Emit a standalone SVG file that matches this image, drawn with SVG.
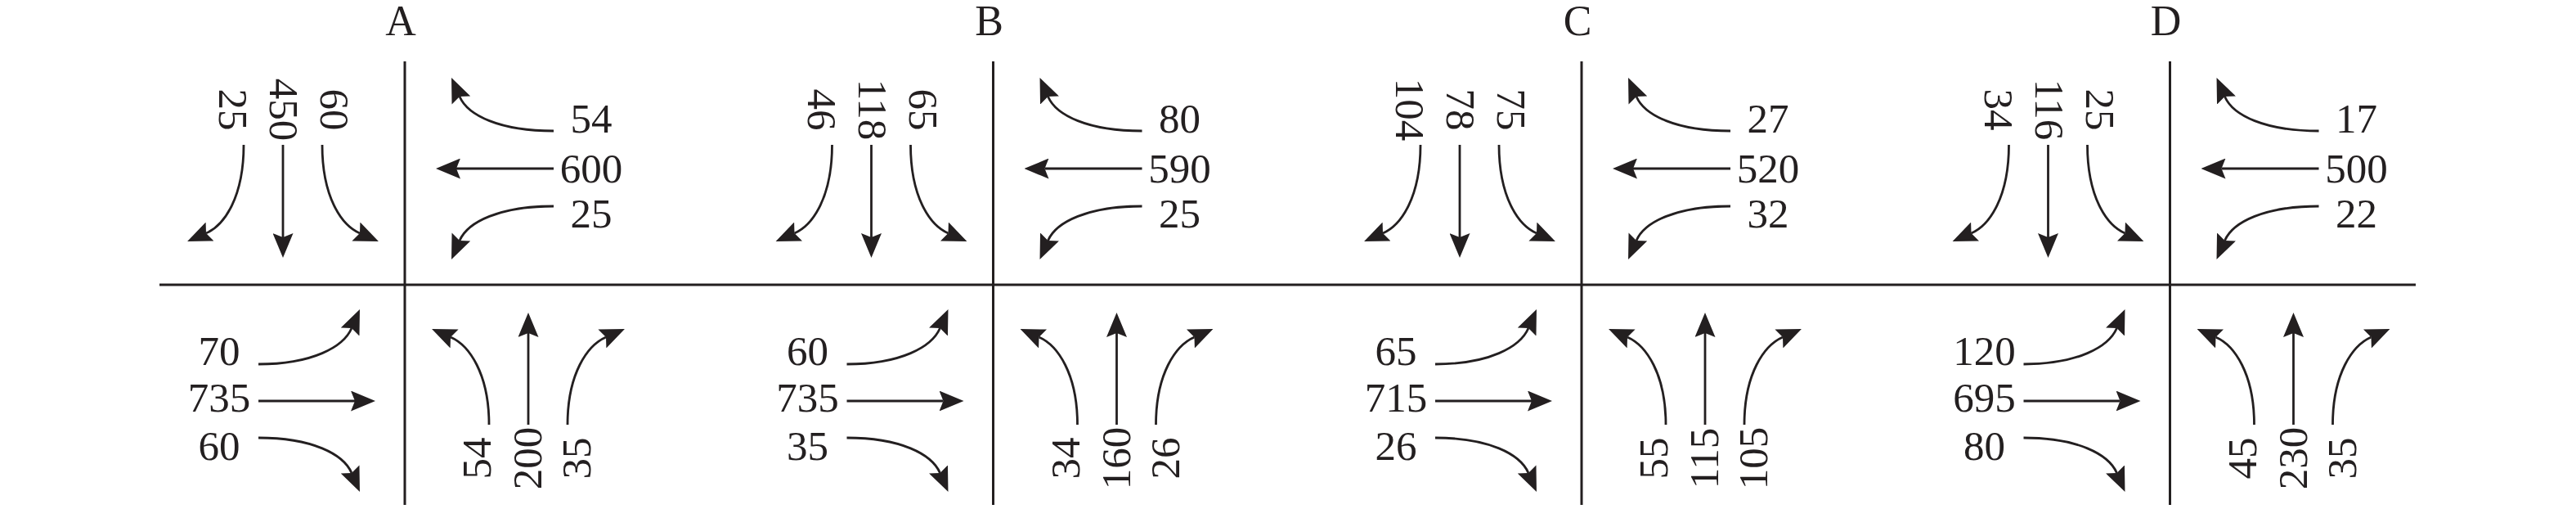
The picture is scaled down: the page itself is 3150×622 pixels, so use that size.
<svg xmlns="http://www.w3.org/2000/svg" xmlns:xlink="http://www.w3.org/1999/xlink" width="3150" height="622" viewBox="0 0 3150 622">
<style>
.road{stroke:#231f20;stroke-width:3;fill:none}
.arr{stroke:#231f20;stroke-width:2.8;fill:none;marker-end:url(#ah)}
text{font-family:"Liberation Serif","Times New Roman",serif;font-size:51px;fill:#231f20;text-anchor:middle}
.ttl{font-size:52px}
</style>
<defs>
<marker id="ah" markerUnits="userSpaceOnUse" viewBox="0 0 30 25" markerWidth="30" markerHeight="25" refX="5" refY="12.5" orient="auto"><path d="M0,0 L30,12.5 L0,25 L5,12.5 Z" fill="#231f20"/></marker>
<g id="arrows">
<path class="arr" d="M298,177 C298,240 275,275 252,285"/>
<path class="arr" d="M346,177 L346,290"/>
<path class="arr" d="M394,177 C394,240 417,275 440,285"/>
<path class="arr" d="M677,160 C611,160 572,141 562,118"/>
<path class="arr" d="M677,206 L558,206"/>
<path class="arr" d="M677,252 C611,252 572,271 562,294"/>
<path class="arr" d="M316,445 C382,445 420,424 430,401"/>
<path class="arr" d="M316,490 L434,490"/>
<path class="arr" d="M316,535 C382,535 420,555 430,578"/>
<path class="arr" d="M598,519 C598,457 574,422 551,412"/>
<path class="arr" d="M646,519 L646,407"/>
<path class="arr" d="M694,519 C694,457 718,422 741,412"/>
</g>
</defs>
<line id="main-road" class="road" x1="195" y1="348" x2="2954" y2="348"/>
<g id="connectors">
<use xlink:href="#arrows" href="#arrows"/>
<use xlink:href="#arrows" href="#arrows" transform="translate(719.5,0)"/>
<use xlink:href="#arrows" href="#arrows" transform="translate(1439,0)"/>
<use xlink:href="#arrows" href="#arrows" transform="translate(2158.5,0)"/>
</g>
<g id="panel-A">
<line class="road" x1="495" y1="75" x2="495" y2="617"/>
<text class="ttl" x="490" y="43">A</text>
<text x="268" y="134" transform="rotate(90 268 134)">25</text>
<text x="330" y="134" transform="rotate(90 330 134)">450</text>
<text x="392" y="134" transform="rotate(90 392 134)">60</text>
<text x="723" y="162">54</text>
<text x="723" y="223">600</text>
<text x="723" y="278">25</text>
<text x="268" y="446">70</text>
<text x="268" y="503">735</text>
<text x="268" y="562">60</text>
<text x="600" y="560" transform="rotate(-90 600 560)">54</text>
<text x="662" y="560" transform="rotate(-90 662 560)">200</text>
<text x="722" y="560" transform="rotate(-90 722 560)">35</text>
</g>
<g id="panel-B" transform="translate(719.5,0)">
<line class="road" x1="495" y1="75" x2="495" y2="617"/>
<text class="ttl" x="490" y="43">B</text>
<text x="268" y="134" transform="rotate(90 268 134)">46</text>
<text x="330" y="134" transform="rotate(90 330 134)">118</text>
<text x="392" y="134" transform="rotate(90 392 134)">65</text>
<text x="723" y="162">80</text>
<text x="723" y="223">590</text>
<text x="723" y="278">25</text>
<text x="268" y="446">60</text>
<text x="268" y="503">735</text>
<text x="268" y="562">35</text>
<text x="600" y="560" transform="rotate(-90 600 560)">34</text>
<text x="662" y="560" transform="rotate(-90 662 560)">160</text>
<text x="722" y="560" transform="rotate(-90 722 560)">26</text>
</g>
<g id="panel-C" transform="translate(1439,0)">
<line class="road" x1="495" y1="75" x2="495" y2="617"/>
<text class="ttl" x="490" y="43">C</text>
<text x="268" y="134" transform="rotate(90 268 134)">104</text>
<text x="330" y="134" transform="rotate(90 330 134)">78</text>
<text x="392" y="134" transform="rotate(90 392 134)">75</text>
<text x="723" y="162">27</text>
<text x="723" y="223">520</text>
<text x="723" y="278">32</text>
<text x="268" y="446">65</text>
<text x="268" y="503">715</text>
<text x="268" y="562">26</text>
<text x="600" y="560" transform="rotate(-90 600 560)">55</text>
<text x="662" y="560" transform="rotate(-90 662 560)">115</text>
<text x="722" y="560" transform="rotate(-90 722 560)">105</text>
</g>
<g id="panel-D" transform="translate(2158.5,0)">
<line class="road" x1="495" y1="75" x2="495" y2="617"/>
<text class="ttl" x="490" y="43">D</text>
<text x="268" y="134" transform="rotate(90 268 134)">34</text>
<text x="330" y="134" transform="rotate(90 330 134)">116</text>
<text x="392" y="134" transform="rotate(90 392 134)">25</text>
<text x="723" y="162">17</text>
<text x="723" y="223">500</text>
<text x="723" y="278">22</text>
<text x="268" y="446">120</text>
<text x="268" y="503">695</text>
<text x="268" y="562">80</text>
<text x="600" y="560" transform="rotate(-90 600 560)">45</text>
<text x="662" y="560" transform="rotate(-90 662 560)">230</text>
<text x="722" y="560" transform="rotate(-90 722 560)">35</text>
</g>
</svg>
